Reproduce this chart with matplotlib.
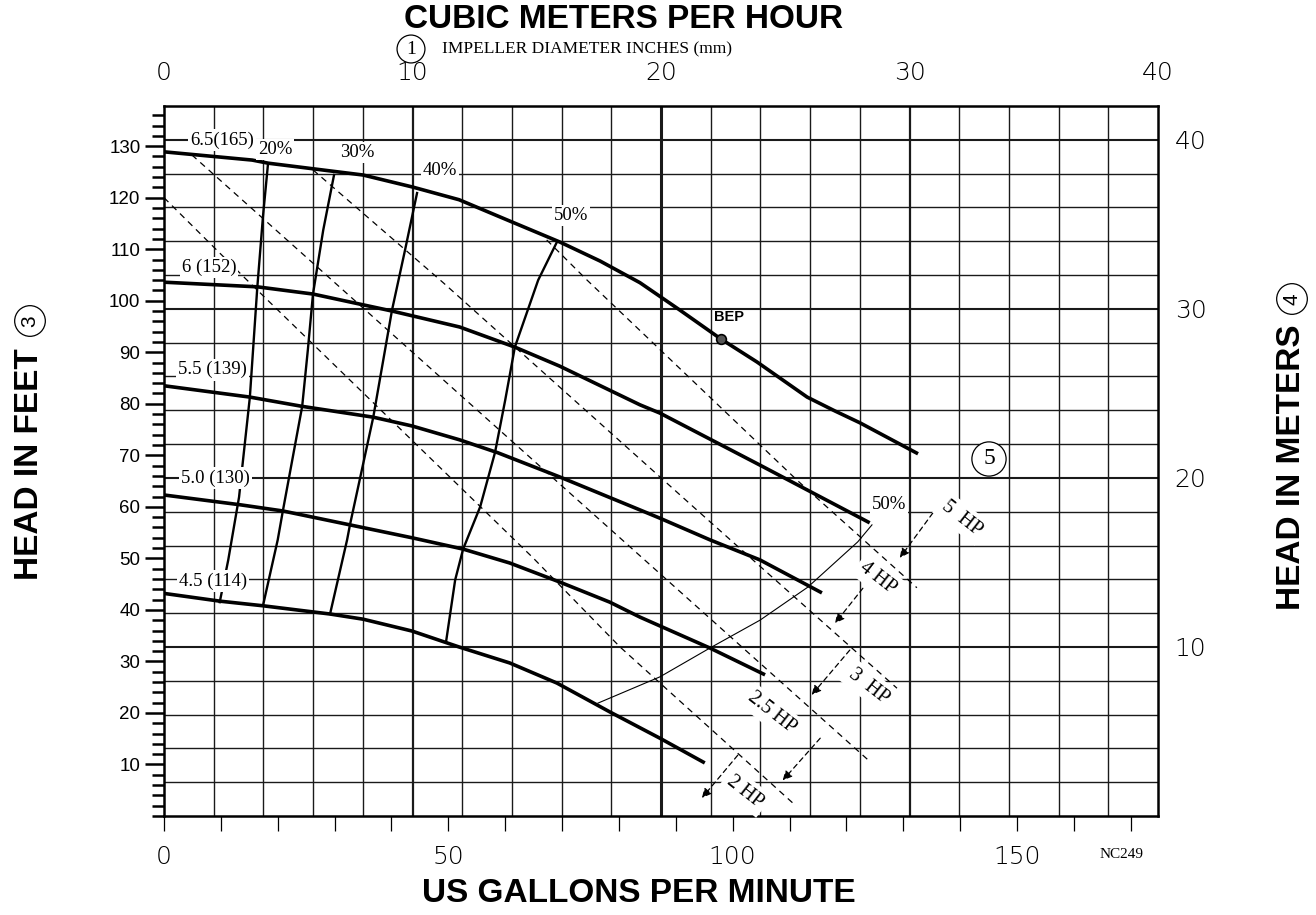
import matplotlib
matplotlib.use("Agg")
import matplotlib.pyplot as plt
import numpy as np

plt.rcParams['font.family'] = ['Liberation Sans', 'DejaVu Sans']

GPM_PER_M3H = 4.37   # ratio
FT_PER_M = 3.2808

# impeller head curves, US gpm / feet
h65_gpm = [0, 15.5, 18.3, 35.0, 43.6, 51.9, 60.3, 69.6, 76.7, 83.7, 90.7, 97.9, 104.3, 113.1, 118.0, 122.4, 132.6]
h65_ft = [128.9, 127.3, 126.7, 124.4, 122.1, 119.6, 115.7, 111.4, 107.7, 103.5, 98.2, 92.6, 88.1, 81.3, 78.6, 76.3, 70.3]
h60_gpm = [0, 16.4, 26.2, 40.1, 52.0, 61.7, 69.6, 83.7, 87.2, 104.8, 124.1]
h60_ft = [103.6, 102.7, 101.3, 98.0, 94.9, 91.0, 87.3, 79.8, 78.2, 68.1, 56.9]
h55_gpm = [0, 15.1, 24.3, 36.8, 43.6, 52.0, 58.7, 69.6, 83.7, 87.2, 96.0, 104.8, 115.7]
h55_ft = [83.5, 81.3, 79.5, 77.4, 75.7, 73.0, 70.5, 65.8, 59.4, 57.8, 53.6, 49.7, 43.3]
h50_gpm = [0, 13.4, 20.9, 32.7, 43.6, 52.6, 60.8, 69.6, 78.4, 83.7, 96.0, 105.7]
h50_ft = [62.3, 60.4, 59.2, 56.5, 54.0, 51.8, 49.1, 45.4, 41.5, 38.6, 32.6, 27.4]
h45_gpm = [0, 9.8, 17.4, 29.2, 35.0, 43.6, 51.9, 60.8, 69.1, 78.4, 87.2, 95.1]
h45_ft = [43.2, 41.7, 40.8, 39.2, 38.2, 35.9, 32.8, 29.7, 25.8, 20.2, 15.1, 10.3]
imp_labels = ["6.5(165)", "6 (152)", "5.5 (139)", "5.0 (130)", "4.5 (114)"]

# efficiency lines
e20_gpm = [18.3, 17.4, 16.4, 15.1, 13.9, 13.2, 11.3, 9.8]
e20_ft = [126.7, 116.3, 102.5, 81.3, 69.1, 61.9, 49.7, 41.5]
e30_gpm = [29.9, 28.0, 26.2, 25.3, 24.3, 20.9, 20.0, 17.4]
e30_ft = [124.4, 113.7, 101.3, 90.5, 79.5, 59.2, 53.6, 40.8]
e40_gpm = [44.5, 42.4, 40.1, 36.8, 32.7, 32.2, 29.2]
e40_ft = [120.9, 109.9, 98.2, 77.4, 56.5, 53.6, 39.2]
e50_gpm = [69.1, 65.8, 61.7, 60.0, 58.2, 55.6, 52.6, 51.2, 49.6]
e50_ft = [111.4, 104.0, 91.0, 80.7, 70.5, 60.0, 51.8, 45.8, 33.8]
eff_labels = ["20%", "30%", "40%", "50%"]

# thin 50% line at the right end of the curves
t50_gpm = [76.3, 87.2, 96.0, 104.8, 113.2, 122.0, 124.5]
t50_ft = [21.9, 27.0, 32.6, 38.0, 44.4, 53.2, 56.5]

# constant power lines (dashed)
p1_gpm = [0, 14.6, 64.9, 80.2, 111.0]
p1_ft = [120.0, 104.0, 50.1, 32.8, 2.1]
p2_gpm = [4.9, 26.9, 99.5, 123.8]
p2_ft = [128.3, 106.6, 34.9, 10.9]
p3_gpm = [26.2, 49.1, 94.3, 128.9]
p3_ft = [125.4, 103.5, 58.8, 24.8]
p4_gpm = [67.3, 74.4, 111.3, 132.4]
p4_ft = [111.8, 104.0, 65.2, 44.3]
hp_labels = ["5  HP", "4 HP", "3  HP", "2.5 HP", "2 HP"]

bep_gpm, bep_ft = 97.9, 92.6

fig = plt.figure(figsize=(13.16, 9.15), dpi=100)
W, H = 1316.0, 915.0
ax = fig.add_axes([164 / W, 1 - 816 / H, (1158 - 164) / W, (816 - 106) / H])
ax.set_xlim(0, 40 * GPM_PER_M3H)
ax.set_ylim(0, 42 * FT_PER_M)

# grid: 2 m3/h by 2 m
for m in np.arange(2, 40, 2):
    lw = 2.2 if m == 20 else (1.6 if m % 10 == 0 else 1.0)
    ax.axvline(m * GPM_PER_M3H, color='#1a1a1a', lw=lw, zorder=1)
for m in np.arange(2, 42, 2):
    lw = 1.5 if m % 10 == 0 else 1.0
    ax.axhline(m * FT_PER_M, color='#1a1a1a', lw=lw, zorder=1)

for g, f in [(p1_gpm, p1_ft), (p2_gpm, p2_ft), (p3_gpm, p3_ft), (p4_gpm, p4_ft)]:
    ax.plot(g, f, color='black', lw=0.9, dashes=(5, 4), zorder=2)

for g, f in [(e20_gpm, e20_ft), (e30_gpm, e30_ft), (e40_gpm, e40_ft), (e50_gpm, e50_ft)]:
    ax.plot(g, f, color='black', lw=1.7, solid_joinstyle='round', zorder=3)
ax.plot(t50_gpm, t50_ft, color='black', lw=0.8, zorder=3)

for g, f in [(h65_gpm, h65_ft), (h60_gpm, h60_ft), (h55_gpm, h55_ft),
             (h50_gpm, h50_ft), (h45_gpm, h45_ft)]:
    ax.plot(g, f, color='black', lw=2.6, solid_capstyle='butt', solid_joinstyle='round', zorder=3)

ax.plot(bep_gpm, bep_ft, 'o', ms=7, mfc='#555555', mec='black', mew=1.2, zorder=4)

box = dict(facecolor='white', edgecolor='none', pad=1.5)
serif = 'Liberation Serif'
imp_pos = [(10.2, 131.2), (7.9, 106.4), (8.6, 86.6), (9.0, 65.6), (8.6, 45.6)]
for t, (x, y) in zip(imp_labels, imp_pos):
    ax.text(x, y, t, family=serif, fontsize=13.5, ha='center', va='center', bbox=box, zorder=5)
eff_pos = [(19.5, 129.3), (33.9, 128.7), (48.5, 125.2), (71.6, 116.5)]
for t, (x, y) in zip(eff_labels, eff_pos):
    ax.text(x, y, t, family=serif, fontsize=13.5, ha='center', va='center', bbox=box, zorder=5)
ax.text(127.5, 60.4, "50%", family=serif, fontsize=13.5, ha='center', va='center', bbox=box, zorder=5)
ax.text(99.3, 96.9, "BEP", fontsize=10.5, weight='bold', ha='center', va='center', zorder=5)

# HP labels and arrows (tail -> head)
hp_text = [(140.3, 57.8), (125.6, 46.2), (124.0, 25.2), (106.9, 20.0), (102.2, 4.7)]
hp_tail = [(135.2, 58.8), (122.9, 44.2), (120.6, 32.2), (115.4, 15.1), (100.9, 11.8)]
hp_head = [(129.4, 50.1), (118.0, 37.4), (113.9, 23.5), (108.8, 6.9), (94.6, 3.5)]
for t, p, a, b in zip(hp_labels, hp_text, hp_tail, hp_head):
    ax.annotate('', xy=b, xytext=a, zorder=4,
                arrowprops=dict(arrowstyle='-|>', linestyle=(0, (4, 3)), lw=0.9,
                                color='black', mutation_scale=14, shrinkA=0, shrinkB=0))
    ax.text(p[0], p[1], t, family=serif, fontsize=14.5, rotation=-38, ha='center',
            va='center', rotation_mode='anchor', bbox=dict(facecolor='white', edgecolor='none', pad=3),
            zorder=5, clip_on=False)

# axes / ticks
for s in ax.spines.values():
    s.set_linewidth(1.8)
    s.set_zorder(3.5)
ax.set_yticks(np.arange(10, 131, 10))
ax.set_yticks(np.arange(0, 137, 2), minor=True)
ax.tick_params(axis='y', which='major', direction='out', length=14, width=1.8, pad=3,
               labelsize=13.5)
ax.tick_params(axis='y', which='minor', direction='out', length=8.5, width=1.8)
ax.set_xticks([0, 50, 100, 150])
ax.set_xticks(np.arange(0, 171, 10), minor=True)
ax.tick_params(axis='x', which='both', direction='out', length=11, width=0.9)
ax.tick_params(axis='x', which='major', pad=10)
for lab in ax.get_xticklabels():
    lab.set_family('DejaVu Sans')
    lab.set_fontsize(18)
    lab.set_fontweight('light')

top = ax.secondary_xaxis('top', functions=(lambda g: g / GPM_PER_M3H, lambda m: m * GPM_PER_M3H))
top.set_xticks([0, 10, 20, 30, 40])
top.tick_params(length=0, pad=15)
top.spines['top'].set_visible(False)
for lab in top.get_xticklabels():
    lab.set_family('DejaVu Sans')
    lab.set_fontsize(18)
    lab.set_fontweight('light')

right = ax.secondary_yaxis('right', functions=(lambda f: f / FT_PER_M, lambda m: m * FT_PER_M))
right.set_yticks([10, 20, 30, 40])
right.tick_params(length=0, pad=12)
right.spines['right'].set_visible(False)
for lab in right.get_yticklabels():
    lab.set_family('DejaVu Sans')
    lab.set_fontsize(18)
    lab.set_fontweight('light')


def fp(px, py):
    return px / W, 1 - py / H


circ = dict(boxstyle='circle,pad=0.28', facecolor='white', edgecolor='black', lw=0.9)
fig.text(*fp(624, 20), "CUBIC METERS PER HOUR", fontsize=24, weight='bold', ha='center', va='center')
fig.text(*fp(639, 894), "US GALLONS PER MINUTE", fontsize=24, weight='bold', ha='center', va='center')
fig.text(*fp(30, 464), "HEAD IN FEET", fontsize=24, weight='bold', rotation=90, ha='center', va='center')
fig.text(*fp(30, 321), "3", fontsize=15, ha='center', va='center', rotation=90, bbox=circ)
fig.text(*fp(1291, 467), "HEAD IN METERS", fontsize=24, weight='bold', rotation=90, ha='center', va='center')
fig.text(*fp(1292, 299), "4", fontsize=15, rotation=90, ha='center', va='center', bbox=circ)
fig.text(*fp(411, 49), "1", fontsize=14, family=serif, ha='center', va='center', bbox=circ)
fig.text(*fp(442, 49), "IMPELLER DIAMETER INCHES (mm)", fontsize=12.5, family=serif, ha='left', va='center')
fig.text(*fp(989, 459), "5", fontsize=17, family=serif, ha='center', va='center', bbox=circ)
fig.text(*fp(1122, 854), "NC249", fontsize=11, family=serif, ha='center', va='center')

fig.savefig('out.png', dpi=100)
